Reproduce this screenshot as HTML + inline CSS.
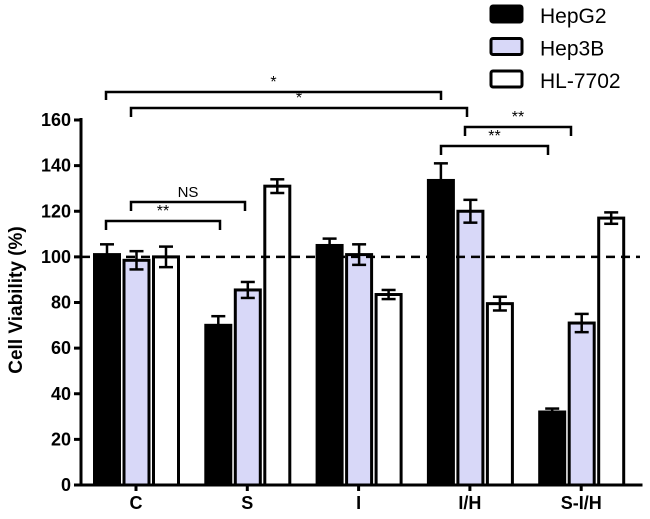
<!DOCTYPE html>
<html><head><meta charset="utf-8"><style>
body{margin:0;background:#fff}
svg{display:block;font-family:"Liberation Sans",Arial,sans-serif}
</style></head><body>
<svg id="chart" width="650" height="519" viewBox="0 0 650 519"></svg>
<script>
const categories=["C","S","I","I/H","S-I/H"];
const seriesNames=["HepG2","Hep3B","HL-7702"];
const hepg2=[101,70,105,133.5,32];
const hepg2Err=[4.5,4,3,7.5,1.5];
const hep3b=[98.5,85.5,101,120,71];
const hep3bErr=[4,3.5,4.5,5,4];
const hl7702=[100,131,83.5,79.5,117];
const hl7702Err=[4.5,3,2,3,2.5];
const yTicks=[0,20,40,60,80,100,120,140,160];
const fills=["#000","#d8d8f8","#fff"];
const NS="http://www.w3.org/2000/svg";
const svg=document.getElementById('chart');
const x0=81,yBase=485,yTop=120,yMax=160;
const y=v=>yBase-(v/yMax)*(yBase-yTop);
const groupStart=i=>93+i*111.3;
const barX=(i,s)=>groupStart(i)+s*29.5;
const bw=28;
function mk(t,a,p){const e=document.createElementNS(NS,t);for(const k in a)e.setAttribute(k,a[k]);(p||svg).appendChild(e);return e;}
let e=mk('line',{x1:x0,y1:yTop-2,x2:x0,y2:yBase,stroke:'#000','stroke-width':3});


e=mk('line',{x1:x0,y1:yBase,x2:x0+5*111.3+5,y2:yBase,stroke:'#000','stroke-width':3});


yTicks.forEach(t=>{
  mk('line',{x1:x0-7,y1:y(t),x2:x0,y2:y(t),stroke:'#000','stroke-width':3});
  const tx=mk('text',{x:x0-10,y:y(t)+6,'text-anchor':'end','font-size':18,'font-weight':'bold'});
  tx.textContent=t;
  
  
});
const yl=mk('text',{x:0,y:0,transform:'translate(22,300) rotate(-90)','text-anchor':'middle','font-size':19,'font-weight':'bold'});
yl.textContent='Cell Viability (%)';


const series=[[hepg2,hepg2Err],[hep3b,hep3bErr],[hl7702,hl7702Err]];
categories.forEach((c,i)=>{
  const cx=groupStart(i)+43;
  mk('line',{x1:cx,y1:yBase,x2:cx,y2:yBase+6,stroke:'#000','stroke-width':3});
  const tx=mk('text',{x:cx,y:yBase+24,'text-anchor':'middle','font-size':18,'font-weight':'bold'});
  tx.textContent=c;
  
  
  series.forEach((s,k)=>{
    const v=s[0][i],er=s[1][i],bx=barX(i,k);
    const r=mk('rect',{x:bx+1.5,y:y(v),width:bw-3,height:yBase-y(v),fill:fills[k],stroke:'#000','stroke-width':3});
    
    
    const m=bx+bw/2;
    mk('line',{x1:m,y1:y(v+er),x2:m,y2:y(v-er),stroke:'#000','stroke-width':2.5});
    mk('line',{x1:m-7,y1:y(v+er),x2:m+7,y2:y(v+er),stroke:'#000','stroke-width':2.5});
    mk('line',{x1:m-7,y1:y(v-er),x2:m+7,y2:y(v-er),stroke:'#000','stroke-width':2.5});
  });
});
e=mk('line',{x1:x0,y1:y(100),x2:640,y2:y(100),stroke:'#000','stroke-width':2.5,'stroke-dasharray':'9,6'});


const brackets=[[106,441,92,100,'*'],[131,467,108,117,'*'],[465,571,127,136,'**'],[441,548,146,155,'**'],[131,245,202,211,'NS'],[106,220,221,230,'**']];
brackets.forEach(b=>{
  const p=mk('path',{d:`M${b[0]},${b[3]}V${b[2]}H${b[1]}V${b[3]}`,fill:'none',stroke:'#000','stroke-width':2.5});
  
  
  const t=mk('text',{x:(b[0]+b[1])/2,y:b[2]-5,'text-anchor':'middle','font-size':b[4]=='NS'?15:16});
  t.textContent=b[4];
  
  
});
seriesNames.forEach((n,k)=>{
  const yy=6+k*32.5;
  const r=mk('rect',{x:491,y:yy,width:31,height:16,rx:2,fill:fills[k],stroke:'#000','stroke-width':3});
  
  
  const t=mk('text',{x:540,y:yy+17,'font-size':21});
  t.textContent=n;
  
  
});
</script>
</body></html>
